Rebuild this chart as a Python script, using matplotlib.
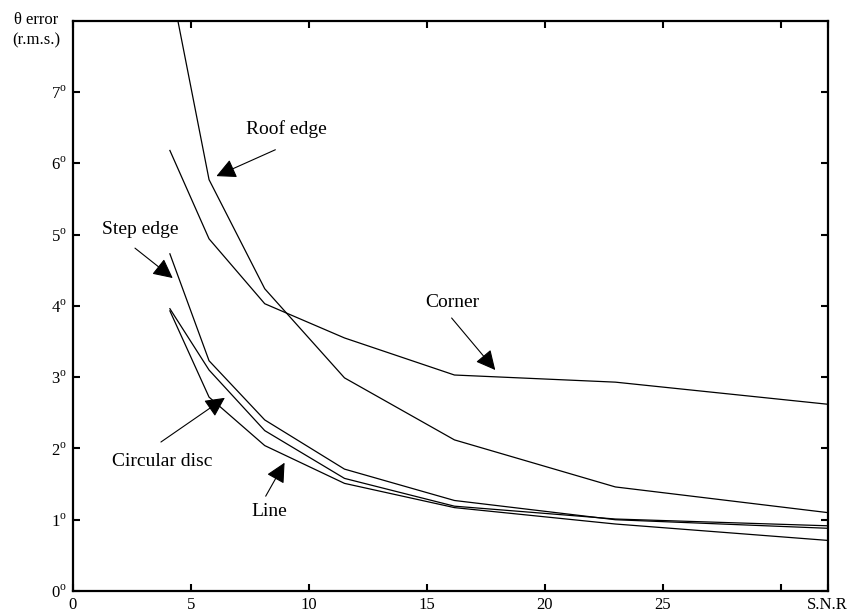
import numpy as np
import matplotlib
matplotlib.use("Agg")
import matplotlib.pyplot as plt

plt.rcParams['font.family'] = ['Liberation Serif', 'DejaVu Serif']
plt.rcParams['mathtext.fontset'] = 'custom'
plt.rcParams['mathtext.rm'] = 'Liberation Serif'

# S.N.R values where the curves bend
snr = [4.12, 5.78, 8.14, 11.52, 16.18, 23.0, 32.0]

# theta error (r.m.s., degrees)
roof_edge = [8.57, 5.77, 4.24, 2.99, 2.12, 1.46, 1.10]
corner = [6.18, 4.94, 4.03, 3.55, 3.03, 2.93, 2.62]
step_edge = [4.73, 3.23, 2.40, 1.71, 1.27, 1.00, 0.88]
circ_disc = [3.96, 3.10, 2.25, 1.58, 1.19, 1.01, 0.915]
line = [3.93, 2.72, 2.04, 1.51, 1.17, 0.94, 0.71]

xticks = [0, 5, 10, 15, 20, 25, 30, 32]
xlabels = ['0', '5', '10', '15', '20', '25', '', 'S.N.R']
yticks = [0, 1, 2, 3, 4, 5, 6, 7]

fig = plt.figure(figsize=(8.52, 6.11), dpi=100)
ax = fig.add_axes([0.0853, 0.0327, 0.8862, 0.9334])

for s in [roof_edge, corner, step_edge, circ_disc, line]:
    ax.plot(snr, s, color='black', lw=0.9)

ax.set_xlim(0, 32)
ax.set_ylim(0, 8)
ax.set_xticks(xticks)
ax.set_xticklabels(xlabels)
ax.set_yticks(yticks)
ax.set_yticklabels([r'$%d^{\rm o}$' % v for v in yticks])
ax.tick_params(direction='in', length=5, width=1.5, top=True, right=True,
               labelsize=12, pad=4)
for sp in ax.spines.values():
    sp.set_linewidth(1.6)

# annotations: (label, text pos, arrow start, arrow tip)
notes = [
    ('Roof edge', (9.07, 6.48), (8.59, 6.19), (6.09, 5.82)),
    ('Step edge', (2.85, 5.07), (2.64, 4.81), (4.24, 4.39)),
    ('Circular disc', (3.80, 1.81), (3.74, 2.09), (6.45, 2.71)),
    ('Line', (8.35, 1.12), (8.18, 1.33), (8.98, 1.80)),
    ('Corner', (16.09, 4.05), (16.06, 3.83), (17.91, 3.10)),
]
for txt, tp, a0, a1 in notes:
    ax.text(tp[0], tp[1], txt, fontsize=14, ha='center', va='center')
    ax.annotate('', xy=a1, xytext=a0,
                arrowprops=dict(arrowstyle='-|>,head_length=0.6,head_width=0.3',
                                mutation_scale=20, lw=0.8, color='black',
                                shrinkA=0, shrinkB=0))

fig.text(36 / 852, 1 - 20 / 611, '\u03b8 error', fontsize=12, ha='center', va='center')
fig.text(36 / 852, 1 - 40 / 611, '(r.m.s.)', fontsize=12, ha='center', va='center')

fig.savefig('out.png', dpi=100)
